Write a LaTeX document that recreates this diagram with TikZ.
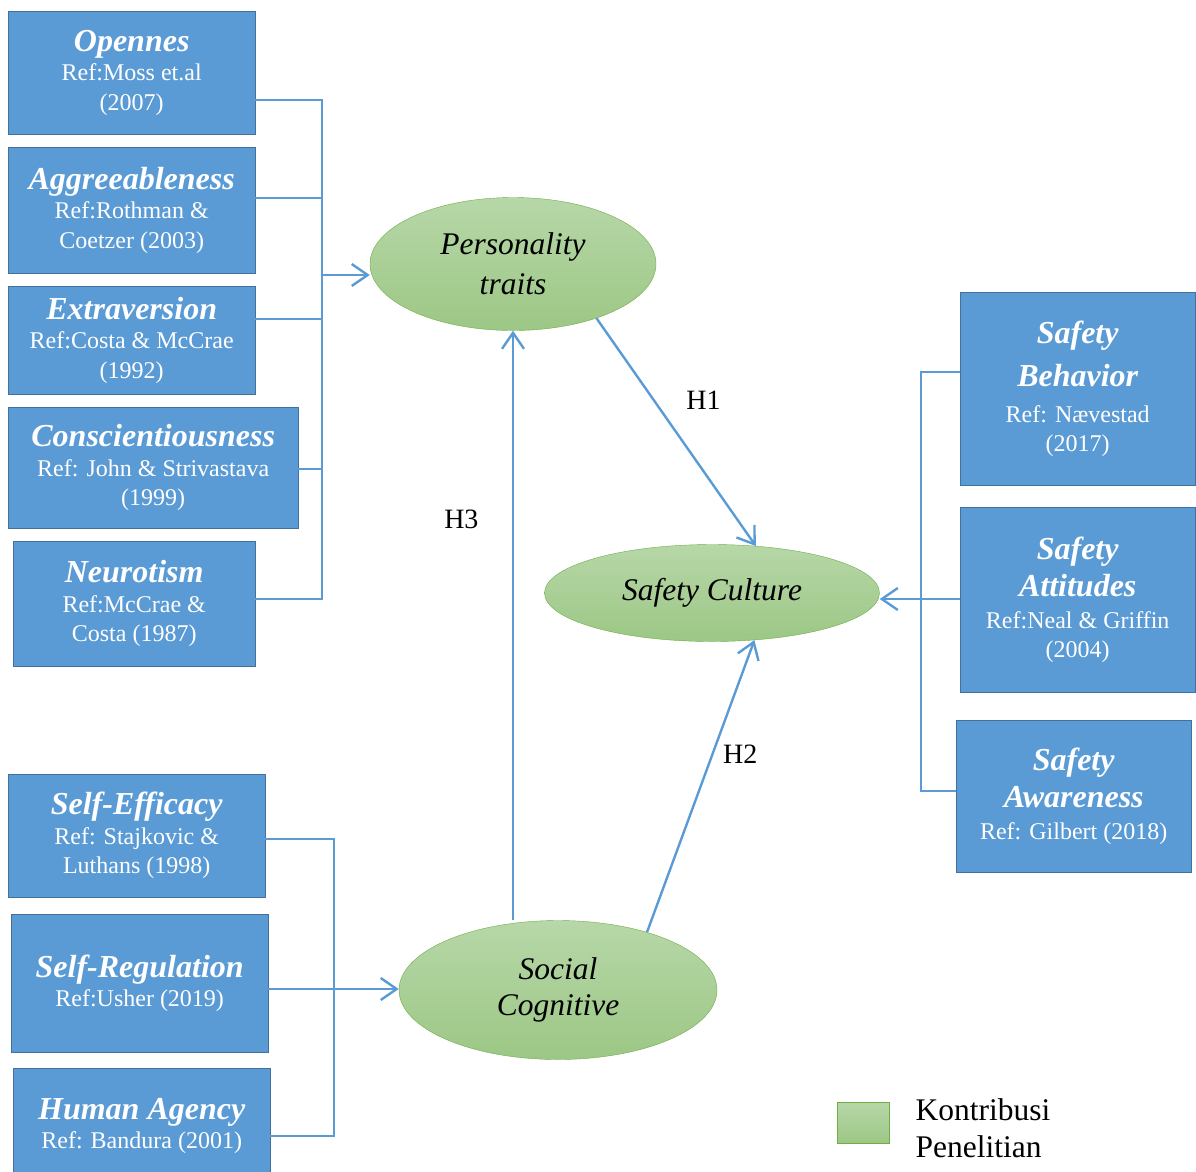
\documentclass[tikz,border=0pt]{standalone}
\usepackage{fontspec}
\setmainfont{Liberation Serif}
\usetikzlibrary{shapes.geometric,arrows.meta}

\definecolor{boxblue}{HTML}{5B9BD5}
\definecolor{boxedge}{HTML}{41719C}
\definecolor{linkblue}{HTML}{5B9BD5}
\definecolor{ovaltop}{HTML}{B7D7A8}
\definecolor{ovalbot}{HTML}{9CC785}
\definecolor{ovaledge}{HTML}{70AD47}

\newcommand\fname[1]{{\fontsize{32}{36}\selectfont\bfseries\itshape #1}}

\begin{document}
\begin{tikzpicture}[x=1pt,y=-1pt,
  factor/.style={rectangle,draw=boxedge,fill=boxblue,text=white,align=center,
    anchor=north west,inner sep=0pt,font=\fontsize{24}{29.5}\selectfont},
  construct/.style={ellipse,draw=ovaledge,top color=ovaltop,bottom color=ovalbot,
    align=center,inner sep=0pt,font=\fontsize{31.5}{40}\selectfont\itshape},
  bus/.style={draw=linkblue,line width=1.2pt},
  link/.style={draw=linkblue,line width=2.4pt,-{Straight Barb[length=16pt,width=22pt]}},
  hyp/.style={font=\fontsize{28}{32}\selectfont}]

  \useasboundingbox (0,0) rectangle (1196,1171);

  % personality factors
  \node[factor,minimum width=247,minimum height=123] (open) at (8,11)
    {\fname{Opennes}\\Ref:Moss et.al\\(2007)};
  \node[factor,minimum width=247,minimum height=126] (aggr) at (8,147)
    {\fname{Aggreeableness}\\Ref:Rothman \&\\Coetzer (2003)};
  \node[factor,minimum width=247,minimum height=108] (extra) at (8,286)
    {\fname{Extraversion}\\Ref:Costa \& McCrae\\(1992)};
  \node[factor,minimum width=290,minimum height=121] (consc) at (8,407)
    {\fname{Conscientiousness}\\Ref: John \& Strivastava\\(1999)};
  \node[factor,minimum width=242,minimum height=125] (neuro) at (13,541)
    {\fname{Neurotism}\\Ref:McCrae \&\\Costa (1987)};

  % social cognitive factors
  \node[factor,minimum width=257,minimum height=123] (effic) at (8,774)
    {\fname{Self-Efficacy}\\Ref: Stajkovic \&\\Luthans (1998)};
  \node[factor,minimum width=257,minimum height=138] (regul) at (11,914)
    {\fname{Self-Regulation}\\Ref:Usher (2019)};
  \node[factor,minimum width=257,minimum height=116] (agency) at (13,1068)
    {\fname{Human Agency}\\Ref: Bandura (2001)};

  % safety culture factors
  \node[factor,minimum width=235,minimum height=193] (behav) at (960,292)
    {\fname{Safety}\\[14pt]\fname{Behavior}\\[6pt]Ref: Nævestad\\(2017)};
  \node[factor,minimum width=235,minimum height=185] (attit) at (960,507)
    {\fname{Safety}\\[8pt]\fname{Attitudes}\\[2pt]Ref:Neal \& Griffin\\(2004)};
  \node[factor,minimum width=235,minimum height=152] (aware) at (956,720)
    {\fname{Safety}\\[8pt]\fname{Awareness}\\[2pt]Ref: Gilbert (2018)};

  % constructs
  \node[construct,minimum width=286,minimum height=133] (pers) at (513,264) {Personality\\traits};
  \node[construct,minimum width=335,minimum height=97] (cult) at (712,593) {Safety Culture};
  \node[construct,minimum width=318,minimum height=139,
    font=\fontsize{31.5}{36}\selectfont\itshape] (social) at (558,990) {Social\\Cognitive};

  % bus points
  \coordinate (b1) at (322,100);
  \coordinate (b2) at (322,198);
  \coordinate (b3) at (322,319);
  \coordinate (b4) at (322,469);
  \coordinate (b5) at (322,599);
  \coordinate (bout) at (322,275);
  \coordinate (c1) at (334,839);
  \coordinate (c2) at (334,989);
  \coordinate (c3) at (334,1136);
  \coordinate (d1) at (921,372);
  \coordinate (d2) at (921,599);
  \coordinate (d3) at (921,791);

  \path[bus] (open.east |- b1) -- (b1) -- (b5) -- (neuro.east |- b5)
    (aggr.east |- b2) -- (b2)
    (extra.east |- b3) -- (b3)
    (consc.east |- b4) -- (b4);
  \path[bus] (effic.east |- c1) -- (c1) -- (c3) -- (agency.east |- c3)
    (regul.east |- c2) -- (c2);
  \path[bus] (behav.west |- d1) -- (d1) -- (d3) -- (aware.west |- d3)
    (attit.west |- d2) -- (d2);

  \draw[link] (bout) -- (pers.west |- bout);
  \draw[link] (c2) -- (social.west |- c2);
  \draw[link] (d2) -- (cult.east |- d2);

  % hypotheses
  \draw[link] (pers.-33) -- (cult.47) node[hyp,pos=.36,right=28pt] {H1};
  \draw[link] (social.33) -- (cult.-48) node[hyp,pos=.61,right=6pt] {H2};
  \draw[link] (pers.south |- social.north) -- (pers.south) node[hyp,pos=.68,left=30pt] {H3};

  % legend
  \node[rectangle,draw=ovaledge,top color=ovaltop,bottom color=ovalbot,
    minimum width=52,minimum height=41,anchor=north west] (key) at (837,1102) {};
  \node[anchor=west,align=left,font=\fontsize{31.5}{37}\selectfont] (keytext) at (912,1128)
    {Kontribusi\\Penelitian};
\end{tikzpicture}
\end{document}
